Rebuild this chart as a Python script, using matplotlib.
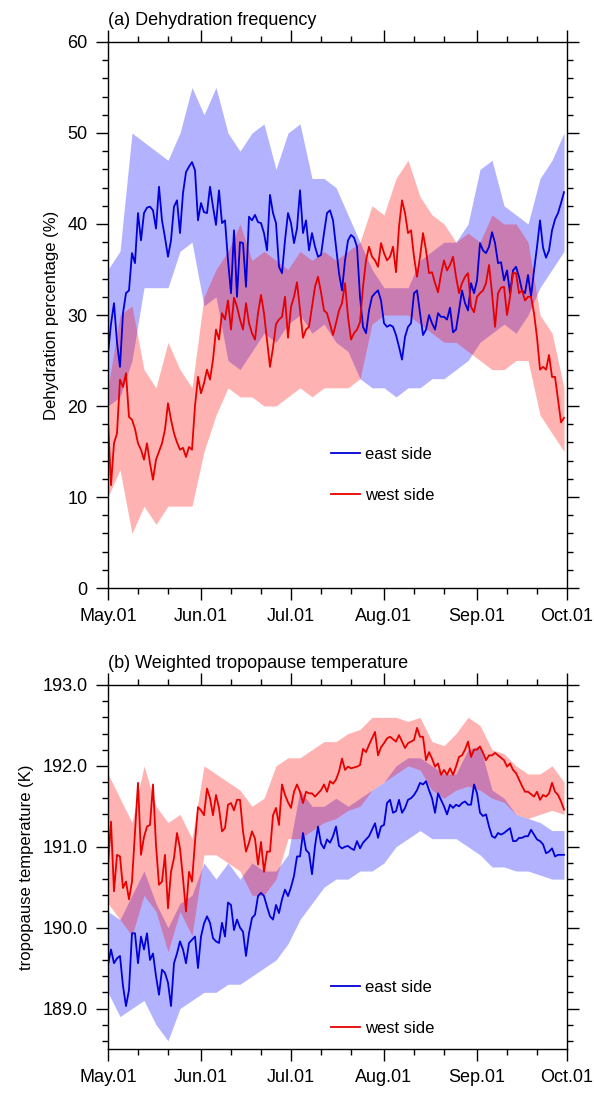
import matplotlib
matplotlib.use('Agg')
import matplotlib.pyplot as plt
import numpy as np
from matplotlib.ticker import MultipleLocator, FixedLocator

plt.rcParams['font.family'] = ['Liberation Sans', 'DejaVu Sans']

# day offsets from May.01 (daily lines, band envelopes every 4 days)
days = np.arange(153)
band_days = np.arange(0, 153, 4)

month_ticks = [0, 31, 61, 92, 123, 153]
month_labels = ['May.01', 'Jun.01', 'Jul.01', 'Aug.01', 'Sep.01', 'Oct.01']
minor_days = [10, 20, 41, 51, 71, 81, 102, 112, 133, 143]

# (a) dehydration frequency (%)
east_freq = [
    25.8, 29.0, 31.3, 27.0, 24.3, 30.2, 32.4, 32.7, 36.8, 35.7,
    41.2, 38.2, 41.2, 41.8, 41.9, 41.5, 39.5, 44.1, 40.4, 38.5,
    36.4, 38.2, 41.9, 42.6, 39.0, 43.4, 45.7, 46.3, 46.8, 45.9,
    40.4, 42.3, 41.3, 41.2, 44.1, 41.9, 39.9, 43.7, 40.1, 40.4,
    36.0, 32.4, 39.3, 32.0, 38.0, 37.9, 33.1, 40.8, 40.4, 41.0,
    40.2, 40.1, 39.0, 37.1, 43.2, 41.2, 40.1, 35.3, 34.6, 38.2,
    41.2, 40.1, 37.9, 39.5, 43.7, 39.0, 40.4, 37.1, 39.0, 37.5,
    36.4, 36.6, 39.0, 41.2, 41.5, 40.4, 37.5, 34.6, 32.7, 36.0,
    38.2, 38.8, 38.5, 37.5, 32.0, 28.7, 28.0, 30.5, 32.0, 32.4,
    32.7, 31.6, 29.1, 28.7, 28.9, 28.7, 27.8, 26.5, 25.1, 27.6,
    28.7, 29.1, 32.4, 32.7, 30.2, 27.8, 28.4, 30.0, 29.1, 28.4,
    30.2, 29.8, 29.8, 29.5, 30.8, 28.1, 28.4, 30.5, 32.7, 31.3,
    30.5, 33.5, 32.4, 33.8, 37.9, 37.1, 36.8, 37.5, 39.1, 37.9,
    35.7, 35.8, 33.8, 34.9, 32.4, 34.9, 35.3, 34.2, 32.7, 32.4,
    34.4, 32.0, 34.9, 37.5, 40.4, 37.4, 36.3, 37.1, 39.3, 40.5,
    41.2, 42.3, 43.5]
west_freq = [
    18.5, 11.3, 15.9, 17.0, 22.9, 22.1, 23.6, 18.8, 18.5, 17.5,
    15.9, 15.2, 14.1, 15.9, 13.7, 11.9, 14.1, 15.0, 15.9, 17.4,
    20.3, 18.5, 17.0, 16.0, 15.2, 15.4, 14.4, 15.5, 15.2, 20.0,
    23.2, 21.4, 22.5, 24.0, 22.9, 25.1, 28.4, 27.3, 30.2, 29.5,
    31.6, 28.4, 31.9, 30.9, 29.5, 28.4, 31.3, 29.1, 28.0, 27.3,
    30.2, 32.2, 30.2, 27.3, 24.3, 26.4, 29.0, 29.5, 29.8, 32.0,
    27.5, 30.9, 32.0, 33.6, 30.5, 27.5, 28.4, 28.7, 30.9, 33.1,
    34.2, 32.5, 30.5, 30.2, 29.0, 27.8, 29.1, 30.5, 31.3, 33.5,
    29.8, 27.3, 28.0, 28.4, 29.2, 33.1, 36.0, 37.5, 36.4, 36.0,
    35.3, 37.9, 36.8, 36.0, 36.4, 37.5, 34.7, 39.7, 42.6, 41.2,
    39.0, 39.3, 36.4, 34.2, 36.4, 39.0, 37.1, 34.6, 34.7, 33.5,
    32.5, 34.5, 36.0, 34.9, 35.5, 36.4, 34.2, 32.4, 33.5, 34.2,
    34.6, 30.9, 30.3, 32.0, 32.4, 32.7, 33.5, 35.5, 32.4, 28.7,
    32.4, 33.0, 33.1, 30.0, 32.0, 34.6, 34.6, 32.4, 32.7, 31.6,
    32.0, 32.0, 30.2, 27.5, 24.0, 24.3, 24.0, 25.6, 23.2, 23.2,
    20.7, 18.2, 18.7]
east_freq_hi = [35, 37, 50, 49, 48, 47, 50, 55, 52, 55, 50, 48, 50, 51, 46, 50,
                51, 45, 45, 44, 41, 38, 35, 33, 33, 33, 36, 37, 38, 38, 40, 46,
                47, 42, 41, 40, 45, 47, 50]
east_freq_lo = [20, 21, 25, 33, 33, 33, 37, 38, 31, 32, 25, 24, 26, 28, 27, 29,
                30, 28, 29, 27, 26, 23, 22, 22, 21, 22, 22, 23, 23, 24, 25, 27,
                28, 29, 28, 30, 33, 35, 37]
west_freq_hi = [22, 30, 31, 24, 22, 27, 24, 22, 32, 35, 37, 40, 36, 37, 36, 35,
                37, 36, 37, 36, 37, 38, 42, 41, 45, 47, 43, 41, 40, 38, 39, 38,
                41, 40, 40, 38, 30, 28, 22]
west_freq_lo = [10, 13, 6, 9, 7, 9, 9, 9, 15, 19, 22, 21, 21, 20, 20, 21,
                22, 21, 22, 22, 22, 23, 29, 30, 30, 30, 29, 28, 27, 27, 26, 25,
                24, 24, 25, 25, 19, 17, 15]

# (b) weighted tropopause temperature (K)
east_temp = [
    189.54, 189.73, 189.56, 189.62, 189.65, 189.28, 189.03, 189.23, 189.93, 189.93,
    189.56, 189.89, 189.73, 189.93, 189.60, 189.68, 189.40, 189.17, 189.48, 189.44,
    189.32, 189.03, 189.56, 189.68, 189.83, 189.73, 189.56, 189.81, 189.85, 189.89,
    189.50, 189.89, 190.05, 190.14, 190.06, 189.87, 189.83, 189.81, 190.06, 189.89,
    190.31, 190.28, 189.97, 190.10, 190.00, 189.95, 189.65, 189.93, 190.12, 190.16,
    190.39, 190.43, 190.39, 190.26, 190.14, 190.10, 190.28, 190.18, 190.35, 190.47,
    190.39, 190.50, 190.64, 190.88, 190.88, 191.17, 190.96, 190.92, 190.66, 191.01,
    191.25, 191.04, 190.98, 191.09, 191.05, 191.13, 191.25, 191.01, 190.98, 191.00,
    191.01, 190.98, 190.96, 191.07, 190.98, 191.05, 191.09, 191.13, 191.21, 191.29,
    191.11, 191.25, 191.27, 191.54, 191.58, 191.42, 191.44, 191.58, 191.42, 191.48,
    191.58, 191.60, 191.64, 191.70, 191.79, 191.77, 191.81, 191.70, 191.60, 191.42,
    191.66, 191.58, 191.50, 191.40, 191.52, 191.48, 191.52, 191.50, 191.54, 191.56,
    191.52, 191.52, 191.77, 191.66, 191.42, 191.38, 191.40, 191.25, 191.13, 191.11,
    191.17, 191.15, 191.17, 191.20, 191.23, 191.07, 191.07, 191.11, 191.11, 191.13,
    191.13, 191.21, 191.15, 191.09, 191.07, 191.03, 190.92, 190.94, 190.98, 190.88,
    190.90, 190.90, 190.90]
west_temp = [
    190.78, 191.31, 190.45, 190.90, 190.88, 190.49, 190.57, 190.35, 190.57, 191.19,
    191.79, 190.90, 191.12, 191.25, 191.27, 191.77, 191.02, 190.53, 190.57, 190.90,
    190.24, 190.69, 190.86, 191.17, 190.98, 190.61, 190.20, 190.69, 190.57, 191.06,
    191.49, 191.45, 191.39, 191.72, 191.60, 191.39, 191.64, 191.48, 191.19, 191.23,
    191.52, 191.54, 191.45, 191.58, 191.58, 191.19, 190.94, 191.05, 191.19, 191.10,
    190.78, 191.06, 190.69, 190.94, 190.94, 191.39, 191.48, 191.27, 191.77, 191.64,
    191.55, 191.48, 191.68, 191.77, 191.68, 191.54, 191.68, 191.66, 191.66, 191.62,
    191.66, 191.70, 191.77, 191.68, 191.81, 191.78, 191.83, 191.93, 192.09, 191.95,
    191.99, 191.97, 191.98, 191.99, 192.01, 192.21, 192.17, 192.26, 192.34, 192.42,
    192.13, 192.23, 192.28, 192.34, 192.36, 192.33, 192.30, 192.38, 192.30, 192.22,
    192.28, 192.30, 192.32, 192.47, 192.36, 192.36, 192.07, 192.17, 192.09, 191.99,
    192.03, 191.89, 191.95, 191.89, 191.97, 191.89, 191.99, 192.11, 192.13, 192.20,
    192.30, 192.11, 192.20, 192.20, 192.24, 192.16, 192.07, 192.13, 192.13, 192.16,
    192.13, 192.10, 192.07, 191.99, 192.03, 191.95, 191.91, 191.83, 191.75, 191.68,
    191.68, 191.65, 191.62, 191.68, 191.58, 191.64, 191.62, 191.66, 191.79, 191.68,
    191.64, 191.56, 191.46]
east_temp_hi = [190.2, 190.1, 190.4, 190.7, 190.3, 190.0, 190.3, 190.4, 190.8, 190.6,
                190.8, 190.6, 190.8, 190.7, 190.7, 190.9, 191.7, 191.5, 191.5, 191.6,
                191.5, 191.6, 191.7, 191.8, 192.0, 192.1, 192.1, 192.0, 191.9, 191.9,
                192.2, 192.25, 191.7, 191.6, 191.4, 191.35, 191.3, 191.2, 191.2]
east_temp_lo = [189.2, 188.9, 189.0, 189.1, 188.8, 188.6, 189.0, 189.1, 189.2, 189.2,
                189.3, 189.3, 189.4, 189.5, 189.6, 189.8, 190.1, 190.3, 190.5, 190.6,
                190.6, 190.7, 190.7, 190.8, 191.0, 191.1, 191.2, 191.1, 191.1, 191.1,
                191.0, 190.9, 190.75, 190.75, 190.7, 190.7, 190.65, 190.6, 190.6]
west_temp_hi = [191.9, 191.6, 191.3, 192.0, 191.5, 191.3, 191.4, 191.1, 192.0, 191.9,
                191.8, 191.7, 191.5, 191.6, 192.0, 192.1, 192.1, 192.2, 192.3, 192.3,
                192.4, 192.45, 192.6, 192.6, 192.6, 192.55, 192.6, 192.3, 192.25, 192.4,
                192.6, 192.5, 192.2, 192.15, 192.0, 191.9, 191.9, 192.0, 191.8]
west_temp_lo = [190.3, 190.1, 189.9, 190.4, 190.2, 189.7, 190.2, 189.9, 190.9, 190.9,
                190.8, 190.7, 190.4, 190.4, 190.6, 191.1, 191.1, 191.2, 191.3, 191.35,
                191.45, 191.5, 191.7, 191.8, 191.9, 192.0, 191.95, 191.7, 191.6, 191.7,
                191.75, 191.7, 191.6, 191.55, 191.4, 191.35, 191.4, 191.45, 191.4]

BLUE = '#0000d8'
RED = '#e60000'

fig = plt.figure(figsize=(5.94, 10.93), dpi=100)
ax_a = fig.add_axes([0.1818, 0.462, 0.7728, 0.4996])
ax_b = fig.add_axes([0.1818, 0.0403, 0.7728, 0.3330])

panels = [
    (ax_a, east_freq, west_freq, east_freq_hi, east_freq_lo, west_freq_hi, west_freq_lo),
    (ax_b, east_temp, west_temp, east_temp_hi, east_temp_lo, west_temp_hi, west_temp_lo),
]

for ax, e, w, ehi, elo, whi, wlo in panels:
    ax.fill_between(band_days, elo, ehi, color='blue', alpha=0.3, lw=0)
    ax.fill_between(band_days, wlo, whi, color='red', alpha=0.3, lw=0)
    ax.plot(days, e, color=BLUE, lw=1.3, label='east side')
    ax.plot(days, w, color=RED, lw=1.3, label='west side')

    ax.set_xlim(0, 153)
    ax.xaxis.set_major_locator(FixedLocator(month_ticks))
    ax.xaxis.set_minor_locator(FixedLocator(minor_days))
    ax.set_xticklabels(month_labels)
    ax.tick_params(which='both', direction='out', top=True, right=True,
                   labelsize=13, width=1.0)
    ax.tick_params(which='major', length=8.6, pad=6)
    ax.tick_params(which='minor', length=4.3)
    for sp in ax.spines.values():
        sp.set_linewidth(1.0)

    ax.legend(loc='upper left', frameon=False, fontsize=12,
              handlelength=1.75, handletextpad=0.3, labelspacing=1.55,
              borderpad=0, borderaxespad=0,
              bbox_to_anchor=(0.485, 0.258 if ax is ax_a else 0.19))

ax_a.set_ylim(0, 60)
ax_a.yaxis.set_major_locator(MultipleLocator(10))
ax_a.yaxis.set_minor_locator(MultipleLocator(2))
ax_a.set_ylabel('Dehydration percentage (%)', fontsize=12, labelpad=6)
ax_a.set_title('(a) Dehydration frequency', loc='left', fontsize=13, pad=12)

ax_b.set_ylim(188.5, 193.0)
ax_b.yaxis.set_major_locator(FixedLocator([189, 190, 191, 192, 193]))
ax_b.yaxis.set_minor_locator(MultipleLocator(0.2))
ax_b.set_yticklabels(['189.0', '190.0', '191.0', '192.0', '193.0'])
ax_b.set_ylabel('tropopause temperature (K)', fontsize=12, labelpad=6)
ax_b.set_title('(b) Weighted tropopause temperature', loc='left', fontsize=13, pad=12)

fig.savefig('out.png', dpi=100)
